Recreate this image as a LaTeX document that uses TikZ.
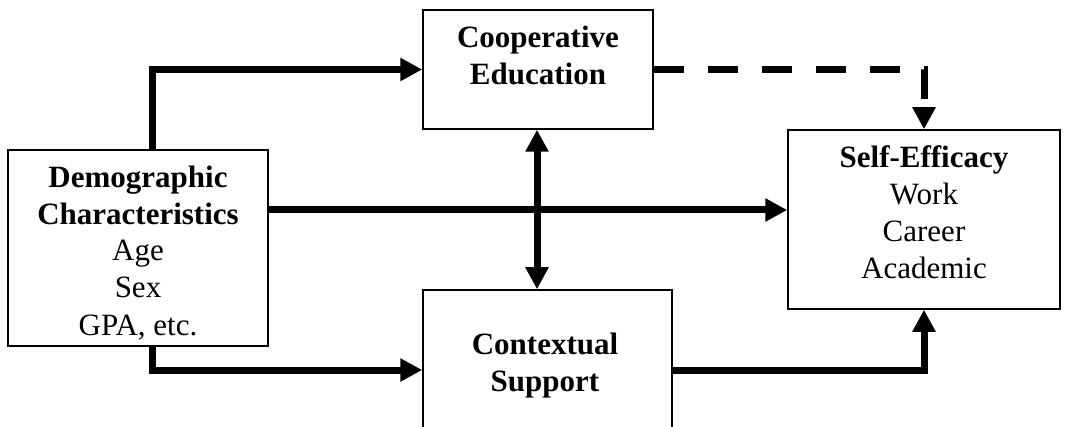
\documentclass[tikz,border=0pt]{standalone}
\usepackage{fontspec}
\setmainfont{Liberation Serif}
\usetikzlibrary{arrows.meta}
\tikzset{
  box/.style={draw, line width=1.5pt, rectangle, inner sep=0pt},
  lbl/.style={align=center, anchor=base, inner sep=0pt, font=\fontsize{31}{37}\selectfont},
  arr/.style={line width=7pt, -{Triangle[length=22pt,width=22pt]}},
  dbl/.style={line width=7pt, {Triangle[length=22pt,width=22pt]}-{Triangle[length=22pt,width=22pt]}},
  dsh/.style={dash pattern=on 30pt off 24pt}
}
\begin{document}
\begin{tikzpicture}[x=1pt,y=-1pt]
\clip (0,0) rectangle (1067,427);
\fill[white] (0,0) rectangle (1067,427);
% boxes
\node[box, minimum width=230pt, minimum height=119pt] (coop) at (538,69.5) {};
\node[box, minimum width=260pt, minimum height=196pt] (demo) at (138,248) {};
\node[box, minimum width=272pt, minimum height=179pt] (se) at (924,219.5) {};
\node[box, minimum width=249pt, minimum height=160pt] (ctx) at (547.5,370) {};
% texts
\node[lbl] (coopT1) at (538,48) {\textbf{Cooperative}};
\node[lbl] (coopT2) at (538,85) {\textbf{Education}};
\node[lbl] (demoT1) at (138,188) {\textbf{Demographic}};
\node[lbl] (demoT2) at (138,225) {\textbf{Characteristics}};
\node[lbl] (demoT3) at (138,261) {Age};
\node[lbl] (demoT4) at (138,298) {Sex};
\node[lbl] (demoT5) at (138,335) {GPA, etc.};
\node[lbl] (seT1) at (924,168) {\textbf{Self-Efficacy}};
\node[lbl] (seT2) at (924,205) {Work};
\node[lbl] (seT3) at (924,242) {Career};
\node[lbl] (seT4) at (924,279) {Academic};
\node[lbl] (ctxT1) at (545,354) {\textbf{Contextual}};
\node[lbl] (ctxT2) at (545,391) {\textbf{Support}};
% helper coordinates
\coordinate (xL) at (152,0);
\coordinate (xM) at (537,0);
\coordinate (yM) at (0,210);
% connectors
\draw[arr] (demo.north -| xL) |- (coop.west);
\draw[arr] (demo.south -| xL) |- (ctx.west);
\draw[arr] (demo.east |- yM) -- (se.west |- yM);
\draw[dbl] (coop.south -| xM) -- (ctx.north -| xM);
\draw[arr,dsh] (coop.east) -| (se.north);
\draw[arr] (ctx.east) -| (se.south);
\end{tikzpicture}
\end{document}
